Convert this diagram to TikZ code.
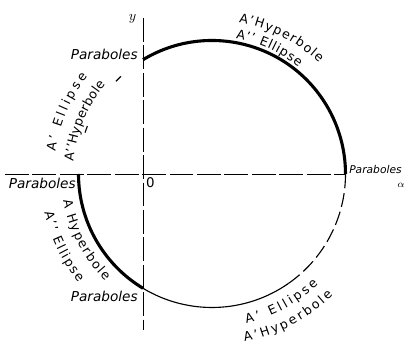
\documentclass[tikz,border=0pt]{standalone}
\usepackage{fontspec}
\setmainfont{DejaVu Sans}
\usetikzlibrary{decorations.text}

\begin{document}
\begin{tikzpicture}[
  x=0.025cm, y=0.025cm,
  heavy/.style={line width=2.2pt},
  light/.style={line width=0.8pt},
  broken/.style={line width=0.8pt, dash pattern=on 10pt off 3.5pt},
  axis/.style={line width=0.6pt, dash pattern=on 17pt off 2.5pt},
  lab/.style={font=\fontsize{9.7}{11}\selectfont\itshape, inner sep=0pt},
  curved/.style={decorate, decoration={text along path, text align={fit to path},
                 text={|\fontsize{9}{10}\selectfont|#1}}}
]
\useasboundingbox (-212,-174) rectangle (204,174);
\def\R{133.5}

% ── axes ─────────────────────────────────────────────────────────────
\coordinate (O)  at (0,0);
\coordinate (xl) at (-207,0);
\coordinate (xr) at (0:\R);
\coordinate (yt) at (-69,156);
\coordinate (yb) at (-69,-156);
\draw[axis] (xl) -- (xr);
\draw[axis] (yt) -- (yb);

% ── the circle ───────────────────────────────────────────────────────
\coordinate (ptop)   at (121.1:\R);
\coordinate (pleft)  at (180:\R);
\coordinate (pbot)   at (238.9:\R);
\coordinate (pbreak) at (305:\R);
\draw[heavy] (ptop) arc[start angle=121.1, end angle=0, radius=\R];
\draw[heavy] (pleft) arc[start angle=180, end angle=238.9, radius=\R];
\draw[light] (pbot) arc[start angle=238.9, end angle=305, radius=\R];
\draw[broken] (pbreak) arc[start angle=305, end angle=360, radius=\R];
\draw[light, dash pattern=on 5pt off 38pt, dash phase=23.3pt]
      (ptop) arc[start angle=121.1, end angle=170, radius=\R];

% ── point labels ─────────────────────────────────────────────────────
\node[lab, anchor=base east] (partop)   at (-74,114)   {Paraboles};
\node[lab, anchor=base east] (parleft)  at (-136,-15)  {Paraboles};
\node[lab, anchor=base east] (parbot)   at (-74,-128)  {Paraboles};
\node[lab, anchor=base west, font=\fontsize{7.6}{9}\selectfont\itshape]
      (parright) at (137,0) {Paraboles};
\node[inner sep=0pt] (ylab)  at (-79.5,155) {$y$};
\node[inner sep=0pt, font=\fontsize{9.5}{11}\selectfont] (zero) at (-61.5,-8.5) {0};
\node[inner sep=0pt, font=\scriptsize] (alab) at (189,-11) {$\alpha$};

% ── arc labels ───────────────────────────────────────────────────────
\path[curved={A'Hyperbole}]  (80:154)   arc[start angle=80,  end angle=46,  radius=154];
\path[curved={A'' Ellipse}]  (80:137.5) arc[start angle=80,  end angle=51,  radius=137.5];
\path[curved={A' Ellipse}]   (172:158)  arc[start angle=172, end angle=142, radius=158];
\path[curved={A''Hyperbole}] (175:139)  arc[start angle=175, end angle=140, radius=139];
\path[curved={A Hyperbole}]  (190:151)  arc[start angle=190, end angle=225, radius=151];
\path[curved={A'' Ellipse}]  (193:172)  arc[start angle=193, end angle=219, radius=172];
\path[curved={A' Ellipse}]   (-77:153)  arc[start angle=-77, end angle=-46, radius=153];
\path[curved={A'Hyperbole}]  (-79:171)  arc[start angle=-79, end angle=-45, radius=171];

\end{tikzpicture}
\end{document}
